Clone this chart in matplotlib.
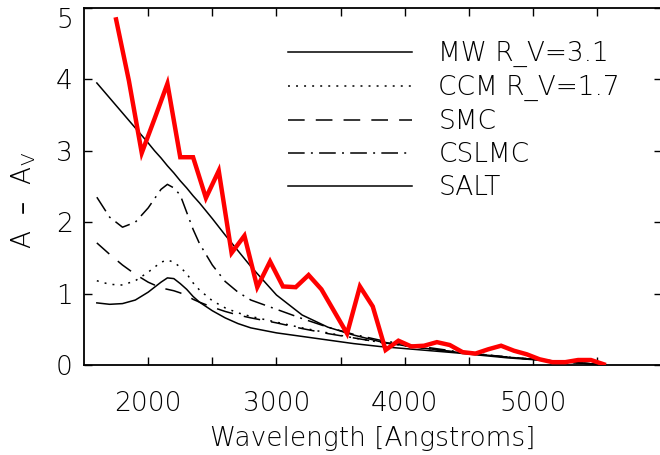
import matplotlib
matplotlib.use("Agg")
import matplotlib.pyplot as plt
from matplotlib.ticker import FixedLocator

# ---------------- data ----------------
wave_model = [1600, 1700, 1800, 1900, 2000, 2050, 2100, 2150, 2200, 2250, 2300, 2350,
              2400, 2500, 2600, 2700, 2800, 3000, 3200, 3400, 3600, 3800, 4000, 4400,
              4800, 5200, 5500]
mw_31 = [3.95, 3.74, 3.53, 3.32, 3.11, 3.00, 2.90, 2.79, 2.69, 2.58, 2.48, 2.37,
         2.27, 2.05, 1.82, 1.60, 1.38, 0.98, 0.70, 0.53, 0.42, 0.33, 0.27, 0.18,
         0.11, 0.05, 0.01]
ccm_17 = [1.18, 1.13, 1.12, 1.18, 1.30, 1.37, 1.44, 1.47, 1.44, 1.37, 1.28, 1.15,
          1.05, 0.90, 0.80, 0.73, 0.68, 0.60, 0.52, 0.45, 0.38, 0.32, 0.27, 0.18,
          0.11, 0.05, 0.01]
smc = [1.71, 1.55, 1.40, 1.27, 1.16, 1.12, 1.08, 1.06, 1.04, 1.01, 0.97, 0.92,
       0.88, 0.81, 0.75, 0.70, 0.66, 0.59, 0.51, 0.44, 0.38, 0.32, 0.27, 0.18,
       0.11, 0.05, 0.01]
cslmc = [2.35, 2.07, 1.93, 2.00, 2.20, 2.33, 2.46, 2.53, 2.48, 2.38, 2.14, 1.90,
         1.70, 1.40, 1.17, 1.02, 0.91, 0.78, 0.65, 0.53, 0.43, 0.35, 0.29, 0.19,
         0.11, 0.05, 0.01]
salt = [0.87, 0.85, 0.86, 0.91, 1.02, 1.09, 1.16, 1.22, 1.21, 1.14, 1.06, 0.96,
        0.88, 0.76, 0.66, 0.58, 0.52, 0.45, 0.40, 0.35, 0.30, 0.26, 0.23, 0.17,
        0.10, 0.05, 0.01]

wave_obs = [1750, 1850, 1950, 2050, 2150, 2250, 2350, 2450, 2550, 2650, 2750, 2850,
            2950, 3050, 3150, 3250, 3350, 3450, 3550, 3650, 3750, 3850, 3950, 4050,
            4150, 4250, 4350, 4450, 4550, 4650, 4750, 4850, 4950, 5050, 5150, 5250,
            5350, 5450, 5550]
obs = [4.84, 3.98, 2.97, 3.45, 3.94, 2.91, 2.91, 2.34, 2.72, 1.57, 1.81, 1.09,
       1.45, 1.10, 1.09, 1.26, 1.06, 0.75, 0.44, 1.10, 0.82, 0.21, 0.34, 0.26,
       0.27, 0.32, 0.28, 0.18, 0.16, 0.22, 0.27, 0.20, 0.15, 0.08, 0.04, 0.04,
       0.07, 0.07, 0.01]

legend_labels = ["MW R_V=3.1", "CCM R_V=1.7", "SMC", "CSLMC", "SALT"]
x_major = [2000, 3000, 4000, 5000]
x_minor = [2500, 3500, 4500, 5500]
y_ticks = [0, 1, 2, 3, 4, 5]

# ---------------- style ----------------
plt.rcParams['font.family'] = ['DejaVu Sans']
plt.rcParams['font.weight'] = 'light'
plt.rcParams['mathtext.default'] = 'regular'
plt.rcParams['lines.scale_dashes'] = False
FS = 19

fig = plt.figure(figsize=(6.6, 4.55), dpi=100)
W, H = 660, 455
ax = fig.add_axes([84 / W, (H - 365) / H, (661.5 - 84) / W, (365 - 8) / H])

lw = 1.1
ax.plot(wave_model, mw_31, color='black', lw=lw, ls='-', label=legend_labels[0])
ax.plot(wave_model, ccm_17, color='black', lw=lw, ls=(0, (1.4, 4.4)), label=legend_labels[1])
ax.plot(wave_model, smc, color='black', lw=lw, ls=(0, (12, 8)), label=legend_labels[2])
ax.plot(wave_model, cslmc, color='black', lw=lw, ls=(0, (12, 4.5, 1.4, 4.5)), label=legend_labels[3])
ax.plot(wave_model, salt, color='black', lw=lw, ls='-', label=legend_labels[4])
ax.plot(wave_obs, obs, color='#ff0000', lw=3.2, solid_joinstyle='miter', zorder=5)

ax.set_xlim(1500, 6000)
ax.set_ylim(0, 5)
ax.xaxis.set_major_locator(FixedLocator(x_major))
ax.xaxis.set_minor_locator(FixedLocator(x_minor))
ax.yaxis.set_major_locator(FixedLocator(y_ticks))
ax.yaxis.set_minor_locator(FixedLocator([]))
ax.tick_params(which='both', direction='in', top=True, right=True, length=5.5,
               width=1.0, labelsize=FS, colors='black')
ax.tick_params(axis='x', which='both', pad=19)
ax.tick_params(axis='y', which='both', pad=8)
for s in ax.spines.values():
    s.set_linewidth(1.3)

for lab in ax.get_xticklabels() + ax.get_yticklabels():
    lab.set_fontweight('light')

# top label "5" sits just below the top edge, as in the reference
ax.yaxis.get_major_ticks()[-1].label1.set_va('top')

ax.set_xlabel("Wavelength [Angstroms]", fontsize=FS, fontweight='light', labelpad=7)
ax.set_ylabel("A  –  A$_V$", fontsize=FS, fontweight='light')
ax.yaxis.set_label_coords(-0.08, 0.46)

leg = ax.legend(loc='upper left', bbox_to_anchor=(288 / W, 1 - 41 / H),
                bbox_transform=fig.transFigure, frameon=False, fontsize=FS,
                handlelength=4.7, handletextpad=1.0, labelspacing=0.30,
                borderpad=0, borderaxespad=0)
for t in leg.get_texts():
    t.set_fontweight('light')

fig.savefig("out.png", dpi=100)
